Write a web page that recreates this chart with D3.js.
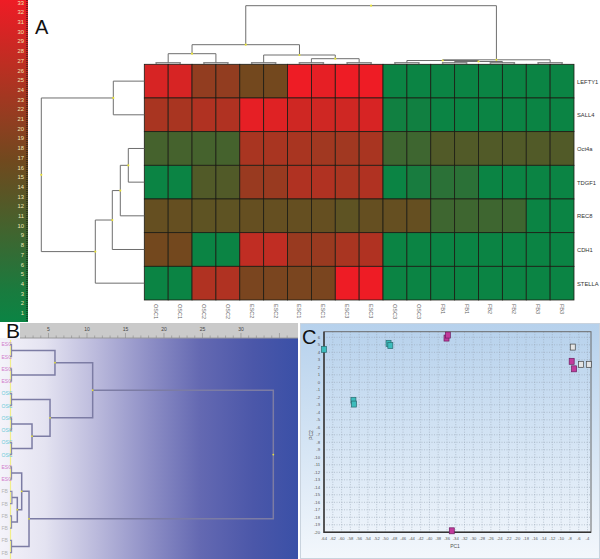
<!DOCTYPE html>
<html><head><meta charset="utf-8">
<script src="https://cdn.jsdelivr.net/npm/d3@7/dist/d3.min.js"></script>
<style>html,body{margin:0;padding:0;background:#fff}svg{display:block;font-family:"Liberation Sans",Arial,sans-serif}</style>
</head><body><svg id="c" width="600" height="559"></svg>
<script>
// ---------------- DATA ----------------
const colLabels = ["OSC1","OSC1","OSC2","OSC2","ESC2","ESC2","ESC1","ESC1","ESC3","ESC3","OSC3","OSC3","FB1","FB1","FB2","FB2","FB3","FB3"];
const rowLabels = ["LEFTY1","SALL4","Oct4a","TDGF1","REC8","CDH1","STELLA"];
const lefty1 = [30,30,21,21,17,17,33,32,33,33,1,1,1,1,1,1,1,1];
const sall4  = [24,24,25,25,32,31,29,29,29,30,2,2,1,1,1,1,1,1];
const oct4a  = [10,10,10,10,24,24,24,23,23,24,9,9,12,12,12,12,12,12];
const tdgf1  = [1,1,12,12,22,22,25,25,24,25,1,3,6,6,1,1,1,1];
const rec8   = [15,15,14,14,15,15,15,15,14,15,15,15,9,9,9,9,1,1];
const cdh1   = [17,17,1,1,27,27,22,22,24,25,1,1,1,1,1,1,1,1];
const stella = [1,1,25,25,18,18,18,18,33,33,1,1,1,1,1,1,1,1];
const scaleTicks = d3.range(1, 34);
// column dendrogram merges [childA, childB, height]
const colMerges = [[0,1,1.3],[2,3,1.3],[4,5,1.3],[6,7,1.3],[8,9,1.3],[10,11,1.3],[12,13,1.3],[14,15,1.3],[16,17,1.3],
  [21,22,5.3],[20,27,9],[18,19,10.3],[29,28,19.3],[24,25,2.5],[23,31,3.5],[32,26,4.2],[30,33,58.3]];
// row dendrogram merges
const rowMerges = [[0,1,31],[2,3,16],[8,4,24],[9,5,32],[10,6,49],[7,11,103]];
// panel B
const bLeafGroups = ["ESC","ESC","ESC","ESC","OSC","OSC","OSC","OSC","OSC","OSC","ESC","ESC","FB","FB","FB","FB","FB","FB"];
const bMerges = [[0,1,0.2],[2,3,0.2],[4,5,0.2],[6,7,0.2],[8,9,0.2],[10,11,0.2],[12,13,0.25],[14,15,0.2],[16,17,0.2],
  [18,19,5.84],[21,22,2.86],[20,28,5.2],[27,29,10.74],[24,25,0.95],[23,31,1.52],[32,26,2.47],[30,33,34.2]];
const bRulerTicks = [5,10,15,20,25,30];
// panel C (PCA)
const escPC1 = [-36.1,-35.8,-7.6,-7.05,-34.9];
const escPC2 = [5.9,6.3,2.8,1.8,-19.8];
const oscPC1 = [-64,-49.3,-48.9,-57.3,-57.2];
const oscPC2 = [4.4,5.2,4.9,-2.4,-2.9];
const fbPC1  = [-7.35,-5.45,-3.7];
const fbPC2  = [4.7,2.4,2.4];
const pc1Ticks = d3.range(-64, -3, 2);
const pc2Ticks = d3.range(-20, 7, 1);

// ---------------- DRAW ----------------
const svg = d3.select("#c");
const defs = svg.append("defs");
const matrix = [lefty1, sall4, oct4a, tdgf1, rec8, cdh1, stella];
const color = d3.scaleLinear().domain([1,16,33]).range(["#0b8444","#6b4b1e","#ee1c25"]).interpolate(d3.interpolateRgb).clamp(true);

// generic dendrogram
function dendro(g, leafPos, merges, hScale, horiz, style){
  const pos = leafPos.slice(), hts = leafPos.map(()=>0);
  const n = leafPos.length;
  const nodes = [];
  merges.forEach((m,k)=>{
    const [a,b,h] = m;
    const p = (pos[a]+pos[b])/2;
    pos[n+k]=p; hts[n+k]=h;
    const pt = (u,v)=> horiz ? [hScale(v),u] : [u,hScale(v)];
    const pts = [pt(pos[a],hts[a]), pt(pos[a],h), pt(pos[b],h), pt(pos[b],hts[b])];
    const small = h < style.smallH;
    g.append("path").attr("d", d3.line()(pts)).attr("fill","none")
      .attr("stroke", small ? style.smallColor : style.color)
      .attr("stroke-width", small ? style.smallWidth : style.width);
    nodes.push(pt(p,h));
  });
  nodes.forEach((d,i)=>{ if(merges[i][2] >= style.smallH) g.append("circle").attr("cx",d[0]).attr("cy",d[1]).attr("r",style.dot).attr("fill","#e8e23a"); });
}

// --- Color bar ---
const cbY = d3.scaleLinear().domain([1,33]).range([313,2.6]);
const cbGrad = defs.append("linearGradient").attr("id","cbg").attr("x1",0).attr("x2",0).attr("y1",0).attr("y2",1);
d3.range(0,11).forEach(i=>{
  const y = i/10*322; const v = cbY.invert(y);
  cbGrad.append("stop").attr("offset", i/10).attr("stop-color", color(v));
});
svg.append("rect").attr("x",0).attr("y",0).attr("width",28).attr("height",322).attr("fill","url(#cbg)");
svg.append("line").attr("x1",27).attr("x2",27).attr("y1",0).attr("y2",322).attr("stroke","#111").attr("stroke-width",1).attr("stroke-dasharray","1,1");
svg.append("g").selectAll("text").data(scaleTicks).join("text")
  .attr("x",24).attr("y",d=>cbY(d)+2).attr("text-anchor","end").attr("font-size",5.8).attr("fill","#efe6b4").text(d=>d);

// --- Panel A ---
svg.append("text").attr("x",35).attr("y",33.5).attr("font-size",20).attr("fill","#111").text("A");
const hx = d3.scaleBand().domain(d3.range(18)).range([144.3,574]);
const hy = d3.scaleBand().domain(d3.range(7)).range([64.3,300]);
const cells = [];
matrix.forEach((row,r)=>row.forEach((v,c)=>cells.push({r,c,v})));
svg.append("g").selectAll("rect").data(cells).join("rect")
  .attr("x",d=>hx(d.c)).attr("y",d=>hy(d.r)).attr("width",hx.bandwidth()).attr("height",hy.bandwidth())
  .attr("fill",d=>color(d.v)).attr("stroke","#1c1c14").attr("stroke-width",0.8);
svg.append("g").selectAll("text").data(rowLabels).join("text")
  .attr("x",577).attr("y",(d,i)=>hy(i)+hy.bandwidth()/2+2.5).attr("font-size",5.8).attr("fill","#333").text(d=>d);
svg.append("g").selectAll("text").data(colLabels).join("text")
  .attr("transform",(d,i)=>`translate(${hx(i)+hx.bandwidth()/2-2},304) rotate(90)`)
  .attr("font-size",5.5).attr("fill","#666").text(d=>d);
// column dendrogram
const colPos = d3.range(18).map(i=>hx(i)+hx.bandwidth()/2);
dendro(svg.append("g"), colPos, colMerges, d3.scaleLinear().domain([0,58.3]).range([64,5.7]), false,
  {color:"#6e6e6e", width:1, smallH:2, smallColor:"#8a8a8a", smallWidth:1.6, dot:1.1});
// row dendrogram
const rowPos = d3.range(7).map(i=>hy(i)+hy.bandwidth()/2);
dendro(svg.append("g"), rowPos, rowMerges, d3.scaleLinear().domain([0,103]).range([144.3,41.3]), true,
  {color:"#6e6e6e", width:1, smallH:0, smallColor:"#6e6e6e", smallWidth:1, dot:1.1});

// --- Panel B ---
const bGrad = defs.append("linearGradient").attr("id","bg").attr("x1",0).attr("x2",1).attr("y1",0).attr("y2",0);
[[0,"#f4f3fa"],[0.15,"#e4e3f1"],[0.33,"#b9b8db"],[0.5,"#8e8fc6"],[0.67,"#6469b2"],[0.85,"#4b57a9"],[1,"#3a50a7"]]
  .forEach(s=>bGrad.append("stop").attr("offset",s[0]).attr("stop-color",s[1]));
svg.append("rect").attr("x",0).attr("y",338).attr("width",298).attr("height",221).attr("fill","url(#bg)");
svg.append("rect").attr("x",20).attr("y",323).attr("width",278).attr("height",15).attr("fill","#cacaca");
svg.append("line").attr("x1",20).attr("x2",298).attr("y1",338).attr("y2",338).attr("stroke","#9a9a9a");
const bx = d3.scaleLinear().domain([0,34.2]).range([10,273.3]);
svg.append("g").selectAll("line").data(d3.range(2,37)).join("line")
  .attr("x1",d=>bx(d)).attr("x2",d=>bx(d)).attr("y1",d=>d%5===0?333:335.5).attr("y2",338).attr("stroke","#8a8a8a").attr("stroke-width",0.6);
svg.append("g").selectAll("text").data(bRulerTicks).join("text")
  .attr("x",d=>bx(d)).attr("y",331).attr("text-anchor","middle").attr("font-size",5).attr("fill","#444").text(d=>d);
svg.append("text").attr("x",6).attr("y",338).attr("font-size",21).attr("fill","#111").text("B");
svg.append("line").attr("x1",10.5).attr("x2",10.5).attr("y1",340).attr("y2",559).attr("stroke","#f2ee8a").attr("stroke-width",1.2);
const bLeafY = d3.range(18).map(i=>344.3+12.25*i);
const grpColor = {ESC:"#d07ccc", OSC:"#6ccad8", FB:"#b4b4b4"};
svg.append("g").selectAll("text").data(bLeafGroups).join("text")
  .attr("x",1.5).attr("y",(d,i)=>bLeafY[i]+2).attr("font-size",5).attr("fill",d=>grpColor[d]).text(d=>d);
dendro(svg.append("g"), bLeafY, bMerges, bx, true,
  {color:"#7c7ca4", width:1.5, smallH:0.5, smallColor:"#8c8cac", smallWidth:1.2, dot:0.9});

// --- Panel C ---
const cGrad = defs.append("linearGradient").attr("id","cg").attr("x1",0).attr("x2",0).attr("y1",0).attr("y2",1);
[[0,"#b6d1ec"],[0.5,"#d4e4f4"],[1,"#f3f7fc"]].forEach(s=>cGrad.append("stop").attr("offset",s[0]).attr("stop-color",s[1]));
svg.append("rect").attr("x",300.5).attr("y",323.5).attr("width",299).attr("height",235).attr("fill","url(#cg)").attr("stroke","#c9d3de");
const px = d3.scaleLinear().domain([-64,-3.2]).range([324,591]);
const py = d3.scaleLinear().domain([-20,6.75]).range([532.3,331.7]);
const gC = svg.append("g");
gC.selectAll(".vg").data(pc1Ticks).join("line").attr("x1",d=>px(d)).attr("x2",d=>px(d)).attr("y1",py(6.75)).attr("y2",py(-20))
  .attr("stroke","#98a6b6").attr("stroke-width",0.6).attr("stroke-dasharray","1,1.5");
gC.selectAll(".hg").data(pc2Ticks).join("line").attr("y1",d=>py(d)).attr("y2",d=>py(d)).attr("x1",px(-64)).attr("x2",px(-3.2))
  .attr("stroke","#98a6b6").attr("stroke-width",0.6).attr("stroke-dasharray","1,1.5");
gC.append("rect").attr("x",px(-64)).attr("y",py(6.75)).attr("width",px(-3.2)-px(-64)).attr("height",py(-20)-py(6.75))
  .attr("fill","none").attr("stroke","#6a6a6a").attr("stroke-width",1);
gC.append("path").attr("d",`M${px(-64)},${py(6.75)}V${py(-20)}H${px(-3.2)}`).attr("fill","none").attr("stroke","#333").attr("stroke-width",1.4);
gC.selectAll(".xt").data(pc1Ticks).join("text").attr("x",d=>px(d)).attr("y",540).attr("text-anchor","middle")
  .attr("font-size",4.2).attr("fill","#555").text(d=>d);
gC.selectAll(".yt").data(pc2Ticks).join("text").attr("x",320).attr("y",d=>py(d)+1.5).attr("text-anchor","end")
  .attr("font-size",4.2).attr("fill","#555").text(d=>d);
gC.append("text").attr("x",455).attr("y",548).attr("text-anchor","middle").attr("font-size",5).attr("fill","#555").text("PC1");
gC.append("text").attr("transform","translate(313,435) rotate(-90)").attr("text-anchor","middle").attr("font-size",5).attr("fill","#555").text("PC2");
function pts(xs, ys, fill, stroke){
  gC.append("g").selectAll("rect").data(xs.map((x,i)=>[x,ys[i]])).join("rect")
    .attr("x",d=>px(d[0])-2.5).attr("y",d=>py(d[1])-3).attr("width",5).attr("height",6)
    .attr("fill",fill).attr("stroke",stroke).attr("stroke-width",0.7);
}
pts(oscPC1, oscPC2, "#3cbcbc", "#2a6a70");
pts(escPC1, escPC2, "#c23a9c", "#6a2060");
pts(fbPC1, fbPC2, "#e4e4e4", "#444");
svg.append("text").attr("x",302).attr("y",344).attr("font-size",20).attr("fill","#111").text("C");
</script></body></html>
